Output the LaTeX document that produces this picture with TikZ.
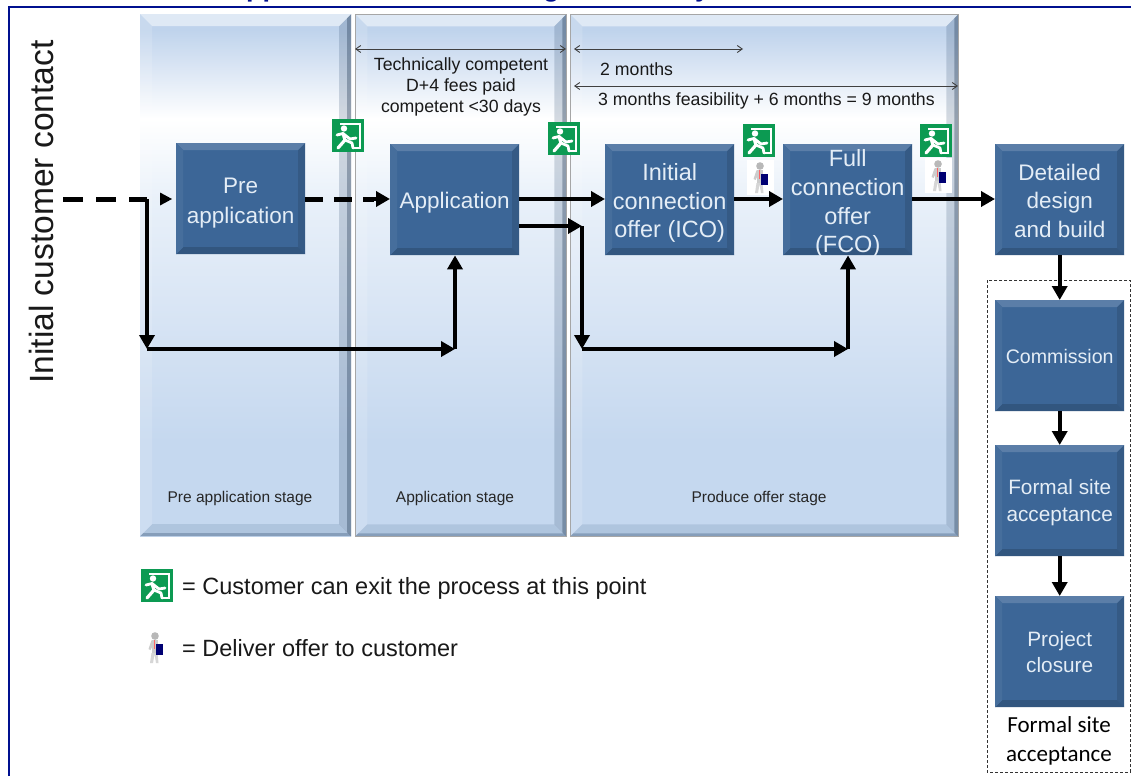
\documentclass[tikz,border=0pt]{standalone}
\usepackage{fontspec}
\setmainfont{Liberation Sans}
\newfontfamily\calfont{Carlito}
\usetikzlibrary{arrows.meta,calc}
\definecolor{boxbase}{HTML}{3C6697}
\definecolor{titleblue}{HTML}{00108F}
\definecolor{exitgreen}{HTML}{0C9A52}
\definecolor{boxtext}{HTML}{E4EDF6}
\definecolor{panelbot}{HTML}{C5D8EF}
\definecolor{panelmidb}{HTML}{DAE6F5}
\definecolor{panelmid}{HTML}{E8F0F9}
\definecolor{paneltop}{HTML}{BFD3EC}
\newcommand\fs[2]{\fontsize{#1}{#2}\selectfont}
\newsavebox\shiftbox
\newcommand\lowertext[2]{\sbox\shiftbox{\parbox{125pt}{\centering #2}}\raisebox{-#1}[\ht\shiftbox][\dp\shiftbox]{\usebox\shiftbox}}
\newcommand\bevelpaint[5]{%
  \coordinate (bnw) at (path picture bounding box.north west);
  \coordinate (bne) at (path picture bounding box.north east);
  \coordinate (bsw) at (path picture bounding box.south west);
  \coordinate (bse) at (path picture bounding box.south east);
  \coordinate (inw) at ([shift={(#1,#1)}]bnw);
  \coordinate (ine) at ([shift={(-#1,#1)}]bne);
  \coordinate (isw) at ([shift={(#1,-#1)}]bsw);
  \coordinate (ise) at ([shift={(-#1,-#1)}]bse);
  \fill[#2] (bnw)--(bne)--(ine)--(inw)--cycle;
  \fill[#3] (bne)--(bse)--(ise)--(ine)--cycle;
  \fill[#4] (bsw)--(bse)--(ise)--(isw)--cycle;
  \fill[#5] (bnw)--(bsw)--(isw)--(inw)--cycle;
}
\pgfdeclareverticalshading{panelshade}{100bp}{
  color(0bp)=(panelbot); color(25bp)=(panelbot);
  color(34bp)=(panelbot);
  color(47.6bp)=(panelmidb);
  color(57bp)=(panelmid);
  color(65bp)=(white);
  color(73.5bp)=(paneltop);
  color(75bp)=(paneltop); color(100bp)=(paneltop)}
\tikzset{
  x=1pt,y=-1pt,
  bluebox/.style={rectangle,inner sep=0pt,anchor=north west,fill=boxbase,text=boxtext,
    align=center,minimum width=129pt,minimum height=111pt,
    path picture={\bevelpaint{7}{fill=white!16!boxbase}{fill=black!12!boxbase}{fill=black!16!boxbase}{fill=white!5!boxbase}}},
  stagepanel/.style={rectangle,inner sep=0pt,anchor=north west,shading=panelshade,
    minimum height=522pt,
    path picture={\bevelpaint{12}{fill=white,fill opacity=.5}{fill=black!30!boxbase,fill opacity=.2}{fill=black!20!boxbase,fill opacity=.14}{fill=white,fill opacity=.14}
      \fill[black!45!boxbase,fill opacity=.35] (bne) -- (bse) -- ([xshift=-4pt,yshift=4pt]bse) -- ([xshift=-4pt,yshift=-4pt]bne) -- cycle;
      \fill[black!30!boxbase,fill opacity=.3] (bsw) -- (bse) -- ([xshift=-3pt,yshift=3pt]bse) -- ([xshift=3pt,yshift=3pt]bsw) -- cycle;}},
  flow/.style={line width=4.4pt,draw=black,-{Triangle[length=14pt,width=15pt]}},
  flowdash/.style={line width=5pt,draw=black,dash pattern=on 20pt off 13pt},
  span/.style={line width=.9pt,draw=black!75,{Straight Barb[length=5pt,width=7pt]}-{Straight Barb[length=5pt,width=7pt]}},
  notetext/.style={inner sep=0pt,text=black!90,font=\fs{17.7}{21},align=center},
  stagetext/.style={inner sep=0pt,text=black!85,font=\fs{15.5}{18}},
  legendtext/.style={inner sep=0pt,anchor=west,text=black!90,font=\fs{23.5}{27}},
  exitsign/.pic={
    \fill[exitgreen] (0,0) rectangle (32,33);
    \draw[white,line width=2pt] (8,4.5) -- (28,4.5) -- (28,29) -- (20,29);
    \fill[white] (12,9.5) circle (3.2);
    \draw[white,line width=2.8pt,line cap=round,line join=round] (5,16) -- (11,14.5) -- (18,20) -- (24,19);
    \draw[white,line width=3.2pt,line cap=round,line join=round] (11,14.5) -- (13,21) -- (6,29);
    \draw[white,line width=2.8pt,line cap=round,line join=round] (13,21) -- (20,24) -- (21,29);
  },
  courier/.pic={
    \fill[white] (-13,-18) rectangle (14,17);
    \fill[black!28] (0,-12) circle (3.8);
    \fill[black!20] (-3.5,-8) rectangle (2.5,5);
    \fill[black!16] (-3.5,5) -- (-5,15) -- (-2,15) -- (-.5,6) -- (1,15) -- (3.5,15) -- (2.5,5) -- cycle;
    \fill[black!20] (-3.5,-8) -- (-6.5,1) -- (-4.5,2) -- (-2,-3) -- cycle;
    \fill[red!60!white] (-1.2,-8) rectangle (.2,1);
    \fill[blue!45!black] (1,-4) rectangle (8,7);
  }
}
\begin{document}
\begin{tikzpicture}
\useasboundingbox (0,0) rectangle (1131,776);
\fill[white] (0,0) rectangle (1131,776);
% clipped title descenders
\begin{scope}
  \clip (0,0) rectangle (1131,5);
  \foreach \tx/\tt in {246/pp,543/g,695/y}{
    \node[anchor=base west,inner sep=0pt,text=titleblue,font=\fs{27}{30}\bfseries] at (\tx,-3.5) {\tt};
  }
\end{scope}
\draw[titleblue,line width=2.6pt] (9,776) -- (9,7) -- (1131,7);

% stage panels
\node[stagepanel,minimum width=211pt] (panelA) at (140,14) {};
\node[stagepanel,minimum width=211pt,draw=black!35,line width=.6pt] (panelB) at (355,14) {};
\node[stagepanel,minimum width=388pt,draw=black!35,line width=.6pt] (panelC) at (570,14) {};
\node[stagetext] (stageA) at (240,498) {Pre application stage};
\node[stagetext] (stageB) at (455,498) {Application stage};
\node[stagetext] (stageC) at (759,498) {Produce offer stage};

% dashed group
\draw[black!80,line width=.8pt,dash pattern=on 3pt off 2pt] (987,280) rectangle (1130,772);
\node[inner sep=0pt,align=center,text=black,font=\calfont\fs{23}{29}] (groupLabel) at (1059,741) {Formal site\\acceptance};

% blue boxes
\node[bluebox,font=\fs{22.5}{30}] (pre) at (176,143) {\lowertext{4pt}{Pre\\application}};
\node[bluebox,font=\fs{22.5}{27.5}] (app) at (390,144) {\lowertext{3pt}{Application}};
\node[bluebox,font=\fs{23.5}{28.5}] (ico) at (605,144) {\lowertext{3.5pt}{Initial\\connection\\offer (ICO)}};
\node[bluebox,font=\fs{23.5}{28.8}] (fco) at (783,144) {\lowertext{4pt}{Full\\connection\\offer\\(FCO)}};
\node[bluebox,font=\fs{22.5}{28.5}] (build) at (995,144) {\lowertext{1pt}{Detailed\\design\\and build}};
\node[bluebox,font=\fs{19.6}{26}] (comm) at (995,300) {\lowertext{1pt}{Commission}};
\node[bluebox,font=\fs{20.8}{27}] (fsa) at (995,445) {\lowertext{2pt}{Formal site\\acceptance}};
\node[bluebox,font=\fs{20.8}{26}] (close) at (995,596) {Project\\closure};

% annotations
\coordinate (spanAl) at (355,49); \coordinate (spanAr) at (566,49);
\coordinate (spanBl) at (574,49); \coordinate (spanBr) at (743,49);
\coordinate (spanCl) at (574,86); \coordinate (spanCr) at (958,86);
\draw[span] (spanAl) -- (spanAr);
\draw[span] (spanBl) -- (spanBr);
\draw[span] (spanCl) -- (spanCr);
\node[notetext] (noteA) at (461,87) {Technically competent\\D+4 fees paid\\competent <30 days};
\node[notetext,anchor=west] (noteB) at (600,69) {2 months};
\node[notetext,anchor=west] (noteC) at (598,101) {3 months feasibility + 6 months = 9 months};

% icons
\pic at (332,119) {exitsign};
\pic at (548,122) {exitsign};
\pic at (743,124) {exitsign};
\pic at (920,124) {exitsign};
\pic at (760,178) {courier};
\pic at (938,176) {courier};

% connectors
\node[rotate=90,inner sep=0pt,text=black!90,font=\fs{33.6}{36}] (initial) at (41,212) {Initial customer contact};
\coordinate (startPt) at (63,199);
\coordinate (splitA) at (147,199);
\coordinate (cornerA) at (147,349);
\coordinate (cornerB) at (455,349);
\coordinate (splitB) at (582,226);
\coordinate (cornerC) at (582,349);
\coordinate (cornerD) at (848,349);
\coordinate (preTip) at (160,199);
\coordinate (appDash) at (374,199);
\draw[flowdash] (startPt) -- (splitA);
\path[fill=black] (preTip) ++(0,-6.5) -- ++(12,6.5) -- ++(-12,6.5) -- cycle;
\draw[flow] (splitA) -- (cornerA);
\draw[flow] (cornerA) -- (cornerB);
\draw[flow] (cornerB) -- (app.south -| cornerB);
\draw[flowdash,dash pattern=on 18pt off 11pt] (pre.east |- startPt) -- (appDash);
\draw[flow] (appDash) -- (app.west |- startPt);
\draw[flow] (app.east |- startPt) -- (ico.west |- startPt);
\draw[flow] (app.east |- splitB) -- (splitB);
\draw[flow] (splitB) -- (cornerC);
\draw[flow] (cornerC) -- (cornerD);
\draw[flow] (cornerD) -- (fco.south -| cornerD);
\draw[flow] (ico.east |- startPt) -- (fco.west |- startPt);
\draw[flow] (fco.east |- startPt) -- (build.west |- startPt);
\draw[flow] (build.south) -- (comm.north);
\draw[flow] (comm.south) -- (fsa.north);
\draw[flow] (fsa.south) -- (close.north);

% legend
\pic at (141,569) {exitsign};
\pic at (155,648) {courier};
\node[legendtext] (legendA) at (182,588) {= Customer can exit the process at this point};
\node[legendtext] (legendB) at (182,648) {= Deliver offer to customer};
\end{tikzpicture}
\end{document}
